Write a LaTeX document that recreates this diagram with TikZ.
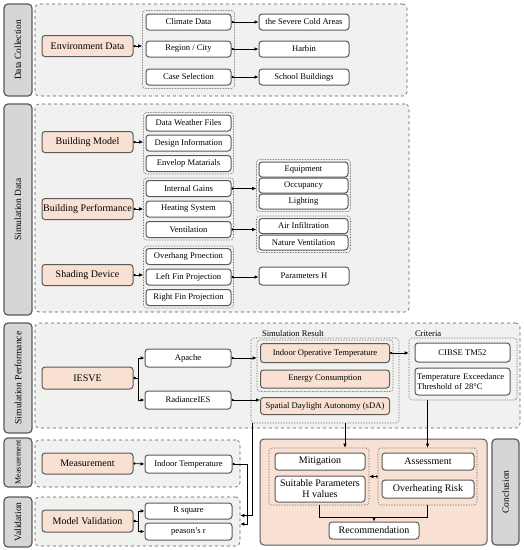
\documentclass[tikz,border=0pt]{standalone}
\usepackage{fontspec}
\setmainfont{Liberation Serif}
\usepackage{tikz}
\usetikzlibrary{arrows.meta,fit,positioning,calc}
\definecolor{peach}{HTML}{F8E1D3}
\definecolor{panel}{HTML}{F1F1F0}
\definecolor{tabgray}{HTML}{D6D6D6}
\definecolor{edgegray}{HTML}{5A5A5A}
\tikzset{
    %Define standard arrow tip
    >={Latex[length=4pt,width=3.5pt]},
    %Define style for boxes
    inputrect/.style={
           rectangle,
           rounded corners=3pt,
           draw=edgegray, line width=1pt,
           minimum width=91pt,
           minimum height=21pt,
           inner sep=1pt,
           font=\fontsize{10}{12}\selectfont,
           align=center,
           fill=peach
           },
    itemrect/.style={
           rectangle,
           rounded corners=3pt,
           draw=edgegray, line width=1pt,
           minimum width=85pt,
           minimum height=16pt,
           inner sep=1pt,
           font=\fontsize{8.6}{10}\selectfont,
           align=center,
           fill=white
           },
    resultrect/.style={
           itemrect,
           minimum width=129pt,
           fill=peach
           },
    endrect/.style={
           itemrect,
           font=\fontsize{10}{11}\selectfont
           },
    grouprect/.style={
           rectangle,
           rounded corners=3pt,
           draw=edgegray, densely dotted,
           inner sep=0pt
           },
    stagerect/.style={
           rectangle,
           rounded corners=4pt,
           draw=edgegray, dashed,
           fill=panel,
           inner sep=0pt
           },
    stagetab/.style={
           rectangle,
           rounded corners=4pt,
           draw=edgegray, line width=1.2pt,
           fill=tabgray,
           inner sep=0pt,
           minimum width=28pt,
           font=\fontsize{9.5}{11}\selectfont
           },
    grouptitle/.style={
           anchor=south west,
           inner sep=1pt,
           font=\fontsize{8.6}{10}\selectfont},
    % Define arrow style
    pil/.style={
           {Circle[length=2.2pt]}->,
           semithick}
}
\begin{document}
\begin{tikzpicture}[x=1pt,y=-1pt,semithick]
\useasboundingbox (0,0) rectangle (524,550);
% stage panels and tabs
\node[stagerect, minimum width=372, minimum height=92] (st1) at (221,50) {};
\node[stagerect, minimum width=374, minimum height=208] (st2) at (222,208) {};
\node[stagerect, minimum width=485, minimum height=105] (st3) at (277.5,375.5) {};
\node[stagerect, minimum width=205, minimum height=47] (st4) at (137.5,463.5) {};
\node[stagerect, minimum width=205, minimum height=49] (st5) at (137.5,521.5) {};
\node[stagetab, minimum height=92] (tab1) at (18,50) {\rotatebox{90}{Data Collection}};
\node[stagetab, minimum height=211] (tab2) at (18,209.5) {\rotatebox{90}{Simulation Data}};
\node[stagetab, minimum height=110] (tab3) at (18,378) {\rotatebox{90}{Simulation Performance}};
\node[stagetab, minimum height=49, font=\fontsize{8}{9}\selectfont] (tab4) at (18,462.5) {\rotatebox{90}{Measurement}};
\node[stagetab, minimum height=50] (tab5) at (18,522) {\rotatebox{90}{Validation}};
\node[stagetab, minimum height=106, minimum width=27] (tab6) at (505.5,492) {\rotatebox{90}{Conclusion}};

% data collection
\node[inputrect] (env) at (87.5,46) {Environment Data};
\node[itemrect] (climate) at (188.5,22) {Climate Data};
\node[itemrect] (region) at (188.5,49) {Region / City};
\node[itemrect] (case) at (188.5,77) {Case Selection};
\node[grouprect, fit=(climate)(region)(case), inner sep=3pt] (g1) {};
\node[itemrect, minimum width=90] (cold) at (304,22) {the Severe Cold Areas};
\node[itemrect, minimum width=90] (harbin) at (304,49) {Harbin};
\node[itemrect, minimum width=90] (school) at (304,77) {School Buildings};
\draw[pil] (env.east) -- (env.east -| g1.west);
\path[pil]
	(climate) edge (cold)
	(region) edge (harbin)
	(case) edge (school);

% simulation data
\node[inputrect] (bmodel) at (87.5,142) {Building Model};
\node[itemrect] (weather) at (188.5,123) {Data Weather Files};
\node[itemrect] (design) at (188.5,143) {Design Information};
\node[itemrect] (envelop) at (188.5,163.5) {Envelop Matarials};
\node[grouprect, fit=(weather)(envelop), inner sep=2pt] (g2) {};
\node[inputrect] (bperf) at (87.5,209) {Building Performance};
\node[itemrect] (gains) at (188.5,188.5) {Internal Gains};
\node[itemrect] (heating) at (188.5,209) {Heating System};
\node[itemrect] (vent) at (188.5,229.5) {Ventilation};
\node[grouprect, fit=(gains)(vent), inner sep=2pt] (g3) {};
\node[inputrect] (shading) at (87.5,275) {Shading Device};
\node[itemrect] (overhang) at (188.5,256.5) {Overhang Proection};
\node[itemrect] (leftfin) at (188.5,277) {Left Fin Projection};
\node[itemrect] (rightfin) at (188.5,297.5) {Right Fin Projection};
\node[grouprect, fit=(overhang)(rightfin), inner sep=2pt] (g4) {};
\node[itemrect, minimum width=89, minimum height=15] (equip) at (303.5,169.5) {Equipment};
\node[itemrect, minimum width=89, minimum height=15] (occup) at (303.5,185.5) {Occupancy};
\node[itemrect, minimum width=89, minimum height=15] (light) at (303.5,201.5) {Lighting};
\node[grouprect, fit=(equip)(light), inner sep=2pt] (g5) {};
\node[itemrect, minimum width=89, minimum height=15] (airinf) at (303.5,226) {Air Infiltration};
\node[itemrect, minimum width=89, minimum height=15] (natvent) at (303.5,242.5) {Nature Ventilation};
\node[grouprect, fit=(airinf)(natvent), inner sep=2pt] (g6) {};
\node[itemrect, minimum width=90, minimum height=18] (paramh) at (304,276) {Parameters H};
\draw[pil] (bmodel.east) -- (bmodel.east -| g2.west);
\draw[pil] (bperf.east) -- (bperf.east -| g3.west);
\draw[pil] (shading.east) -- (shading.east -| g4.west);
\draw[pil] (gains.east) -- (gains.east -| g5.west);
\draw[pil] (vent.east) -- (vent.east -| g6.west);
\draw[pil] (leftfin.east) -- (leftfin.east -| paramh.west);

% simulation performance
\node[inputrect, minimum height=22] (iesve) at (87.5,378) {IESVE};
\node[itemrect, minimum width=86, minimum height=18] (apache) at (188,358) {Apache};
\node[itemrect, minimum width=86, minimum height=18] (radiance) at (188,400) {RadianceIES};
\node[grouprect, minimum width=148, minimum height=85] (simres) at (325,380.5) {};
\node[grouptitle] at ($(simres.north west)+(10,0)$) {Simulation Result};
\node[resultrect, minimum height=19] (iot) at (325,353) {Indoor Operative Temperature};
\node[resultrect, minimum height=18] (energy) at (325,379) {Energy Consumption};
\node[grouprect, fit=(iot)(energy), inner sep=3pt] (g7) {};
\node[resultrect, minimum height=17] (sda) at (325,406) {Spatial Daylight Autonomy (sDA)};
\node[grouprect, minimum width=108, minimum height=62] (criteria) at (463,369) {};
\node[grouptitle] at ($(criteria.north west)+(5,0)$) {Criteria};
\node[itemrect, minimum width=95, minimum height=19] (cibse) at (462.5,352.5) {CIBSE TM52};
\node[itemrect, text width=91pt, align=left, inner sep=2pt, minimum height=27] (exceed) at (462.5,381.5) {Temperature Exceedance\\Threshold of 28°C};
\draw[pil] (iesve.east) -- ++(5,0) |- (apache.west);
\draw[pil] (iesve.east) -- ++(5,0) |- (radiance.west);
\draw[pil] (apache.east) -- (apache.east -| g7.west);
\draw[pil] (radiance.east) -- (radiance.east -| sda.west);
\draw[pil] (iot.east) -- (iot.east -| criteria.west);

% measurement and validation
\node[inputrect] (meas) at (87.5,463.5) {Measurement};
\node[itemrect, minimum width=87, minimum height=18] (indoor) at (188.5,464) {Indoor Temperature};
\node[inputrect, minimum height=22] (mval) at (87.5,521) {Model Validation};
\node[itemrect, minimum width=87] (rsq) at (188.5,511) {R square};
\node[itemrect, minimum width=87, minimum height=17] (pearson) at (188.5,531.5) {peason's r};
\draw[pil] (meas.east) -- (indoor.west);
\draw[pil] (mval.east) -- ++(5,0) |- (rsq.west);
\draw[pil] (mval.east) -- ++(5,0) |- (pearson.west);
\draw[pil] (indoor.east) -- ++(15,0) |- ($(st5.east)+(0,2.5)$);
\draw[->] ($(simres.south west)+(2,0)$) |- ($(st5.east)+(0,-6)$);

% conclusion
\node[rectangle, rounded corners=4pt, draw=edgegray, line width=1pt, fill=peach, minimum width=227, minimum height=106] (concl) at (373.5,492) {};
\node[grouprect, minimum width=100, minimum height=57] (gl) at (319,476.5) {};
\node[grouprect, minimum width=99, minimum height=57] (gr) at (427.5,476.5) {};
\node[endrect, minimum width=90, minimum height=17] (mitig) at (320,461.5) {Mitigation};
\node[endrect, minimum width=90, minimum height=26] (suit) at (320,489) {Suitable Parameters\\H values};
\node[endrect, minimum width=92, minimum height=17] (assess) at (428,461.5) {Assessment};
\node[endrect, minimum width=92, minimum height=18] (overheat) at (428,489) {Overheating Risk};
\node[endrect, minimum width=90, minimum height=17] (recomm) at (374,530.5) {Recommendation};
\coordinate (tapl) at (345,423);
\draw[->] (tapl) -- (tapl |- gl.north);
\draw[->] (criteria.south -| gr.north) -- (gr.north);
\draw[pil] (gr.west) -- (gl.east);
\draw (gl.south) -- ++(0,12) -| (gr.south);
\draw[->] ($(recomm.north)+(0,-5)$) -- (recomm.north);
\end{tikzpicture}
\end{document}
